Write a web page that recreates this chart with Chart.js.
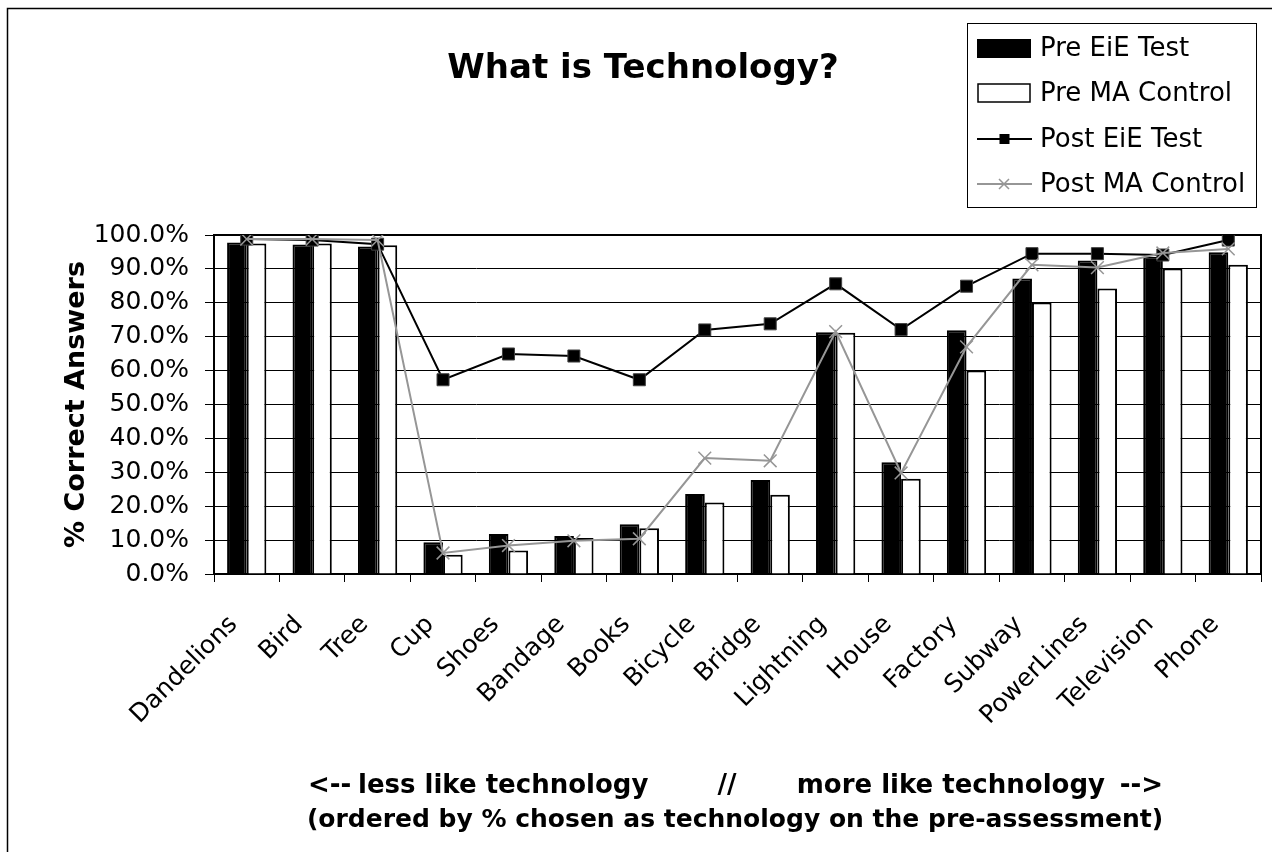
<!DOCTYPE html>
<html>
<head>
<meta charset="utf-8">
<script src="https://cdn.jsdelivr.net/npm/chart.js@4.4.1/dist/chart.umd.min.js"></script>
<style>
  html, body { margin: 0; padding: 0; background: #fff; }
  #wrap { width: 1272px; height: 852px; }
</style>
</head>
<body>
<div id="wrap"><canvas id="myChart" width="1272" height="852"></canvas></div>
<script>
// categories ordered by % chosen as technology on the pre-assessment
const categories = ['Dandelions', 'Bird', 'Tree', 'Cup', 'Shoes', 'Bandage', 'Books', 'Bicycle',
    'Bridge', 'Lightning', 'House', 'Factory', 'Subway', 'PowerLines', 'Television', 'Phone'];

const preEiE  = [97.8, 97.2, 96.6,  9.4, 11.8, 11.2, 14.7, 23.6, 27.7, 71.3, 33.0, 71.9, 87.2, 92.5, 93.6, 94.9];
const preMA   = [97.5, 97.5, 97.0,  5.7,  6.9, 10.6, 13.5, 21.1, 23.4, 71.2, 28.1, 60.0, 80.1, 84.2, 90.1, 91.2];
const postEiE = [98.8, 98.5, 97.3, 57.3, 64.9, 64.3, 57.3, 72.0, 73.8, 85.6, 72.1, 84.9, 94.5, 94.5, 94.1, 98.5];
const postMA  = [98.8, 98.8, 98.5,  6.2,  8.4,  9.8, 10.4, 34.2, 33.4, 71.5, 29.8, 67.0, 91.2, 90.4, 94.7, 95.9];

const seriesNames = ['Pre EiE Test', 'Pre MA Control', 'Post EiE Test', 'Post MA Control'];
const chartTitle = 'What is Technology?';
const yTitle = '% Correct Answers';
const yTicks = [0, 10, 20, 30, 40, 50, 60, 70, 80, 90, 100];

const FONT = "'DejaVu Sans'";
const GRAY = '#969696';

Chart.defaults.font.family = FONT;
Chart.defaults.color = '#000';

// frame, title, legend and the two lines under the axis
const decor = {
    id: 'decor',
    beforeDraw(chart) {
        let ctx = chart.ctx;
        ctx.save();
        ctx.fillStyle = '#fff';
        ctx.fillRect(0, 0, chart.width, chart.height);
        ctx.strokeStyle = '#000';
        ctx.lineWidth = 1.5;
        ctx.beginPath();
        ctx.moveTo(7.5, chart.height);
        ctx.lineTo(7.5, 8.5);
        ctx.lineTo(chart.width, 8.5);
        ctx.stroke();
        ctx.restore();
    },
    beforeDatasetsDraw(chart) {
        let a = chart.chartArea;
        let ctx = chart.ctx;
        ctx.save();
        ctx.strokeStyle = '#000';
        ctx.lineWidth = 2;
        ctx.strokeRect(a.left, a.top, a.right - a.left, a.bottom - a.top);
        ctx.restore();
    },
    afterDraw(chart) {
        let ctx = chart.ctx;
        ctx.save();
        ctx.fillStyle = '#000';

        // title
        ctx.font = 'bold 34px ' + FONT;
        ctx.textAlign = 'center';
        ctx.textBaseline = 'alphabetic';
        ctx.fillText(chartTitle, 643, 78);

        // legend box
        ctx.strokeStyle = '#000';
        ctx.lineWidth = 1;
        ctx.strokeRect(967.5, 23.5, 289, 184);
        let rows = [48, 93, 139, 184];
        // bar swatches
        ctx.fillRect(977, rows[0] - 9, 54, 19);
        ctx.lineWidth = 1.5;
        ctx.strokeRect(978, rows[1] - 9, 52, 18);
        // line swatches
        ctx.lineWidth = 2;
        ctx.beginPath();
        ctx.moveTo(977, rows[2]);
        ctx.lineTo(1032, rows[2]);
        ctx.stroke();
        ctx.fillRect(999.5, rows[2] - 5, 10, 10);
        ctx.strokeStyle = GRAY;
        ctx.beginPath();
        ctx.moveTo(977, rows[3]);
        ctx.lineTo(1032, rows[3]);
        ctx.stroke();
        ctx.lineWidth = 1.5;
        ctx.beginPath();
        ctx.moveTo(999, rows[3] - 5); ctx.lineTo(1009, rows[3] + 5);
        ctx.moveTo(1009, rows[3] - 5); ctx.lineTo(999, rows[3] + 5);
        ctx.stroke();

        ctx.font = '26px ' + FONT;
        ctx.textAlign = 'left';
        ctx.textBaseline = 'middle';
        for (let i = 0; i < seriesNames.length; i++) {
            ctx.fillText(seriesNames[i], 1040, rows[i] + 1);
        }

        // x axis caption
        ctx.textBaseline = 'alphabetic';
        ctx.font = 'bold 26px ' + FONT;
        ctx.textAlign = 'left';
        ctx.fillText('<--', 308, 793);
        ctx.fillText('less like technology', 358, 793);
        ctx.textAlign = 'center';
        ctx.fillText('//', 727, 793);
        ctx.textAlign = 'right';
        ctx.fillText('more like technology', 1105, 793);
        ctx.fillText('-->', 1163, 793);
        ctx.font = 'bold 25px ' + FONT;
        ctx.textAlign = 'center';
        ctx.fillText('(ordered by % chosen as technology on the pre-assessment)', 735, 827);
        ctx.restore();
    }
};

const ctx = document.getElementById('myChart').getContext('2d');

let myChart = new Chart(ctx, {
    type: 'bar',
    data: {
        labels: categories,
        datasets: [
            {
                type: 'line',
                label: seriesNames[3],
                data: postMA,
                borderColor: GRAY,
                borderWidth: 2,
                pointStyle: 'crossRot',
                pointRadius: 9,
                pointBorderColor: GRAY,
                pointBorderWidth: 1.5,
                pointBackgroundColor: GRAY,
                fill: false,
                tension: 0,
                order: 0,
            },
            {
                type: 'line',
                label: seriesNames[2],
                data: postEiE,
                borderColor: '#000',
                borderWidth: 2,
                pointStyle: 'rect',
                pointRadius: 8.5,
                pointBackgroundColor: '#000',
                pointBorderColor: '#404040',
                pointBorderWidth: 1,
                fill: false,
                tension: 0,
                order: 1,
            },
            {
                label: seriesNames[0],
                data: preEiE,
                backgroundColor: '#000',
                borderColor: '#000',
                borderWidth: 2,
                order: 2,
            },
            {
                label: seriesNames[1],
                data: preMA,
                backgroundColor: '#fff',
                borderColor: '#000',
                borderWidth: 2,
                order: 3,
            },
        ],
    },
    options: {
        responsive: false,
        animation: false,
        devicePixelRatio: 1,
        events: [],
        layout: {
            padding: { left: 0, top: 235, right: 11, bottom: 0 },
        },
        datasets: {
            bar: {
                categoryPercentage: 0.6,
                barPercentage: 1.0,
            },
        },
        plugins: {
            legend: { display: false },
            tooltip: { enabled: false },
            title: { display: false },
        },
        scales: {
            x: {
                offset: true,
                grid: {
                    offset: true,
                    drawOnChartArea: false,
                    drawTicks: true,
                    tickLength: 8,
                    color: '#000',
                    lineWidth: 1,
                },
                border: { display: true, color: '#000', width: 2 },
                ticks: {
                    autoSkip: false,
                    maxRotation: 45,
                    minRotation: 45,
                    padding: 28,
                    labelOffset: -13,
                    color: '#000',
                    font: { size: 25, family: FONT },
                },
                afterFit(scale) {
                    scale.height = 852 - 574;
                    scale.paddingLeft = 0;
                    scale.paddingRight = 0;
                },
            },
            y: {
                min: 0,
                max: 100,
                afterBuildTicks(scale) {
                    scale.ticks = yTicks.map(v => ({ value: v }));
                },
                grid: {
                    color: '#000',
                    lineWidth: 1,
                    tickLength: 9,
                },
                border: { display: true, color: '#000', width: 2 },
                ticks: {
                    padding: 16,
                    color: '#000',
                    font: { size: 25, family: FONT },
                    callback: value => value.toFixed(1) + '%',
                },
                title: {
                    display: true,
                    text: yTitle,
                    color: '#000',
                    font: { size: 27, weight: 'bold', family: FONT },
                    padding: { top: 61, bottom: 0 },
                },
                afterFit(scale) {
                    scale.width = 214;
                },
            },
        },
    },
    plugins: [decor],
});
</script>
</body>
</html>
